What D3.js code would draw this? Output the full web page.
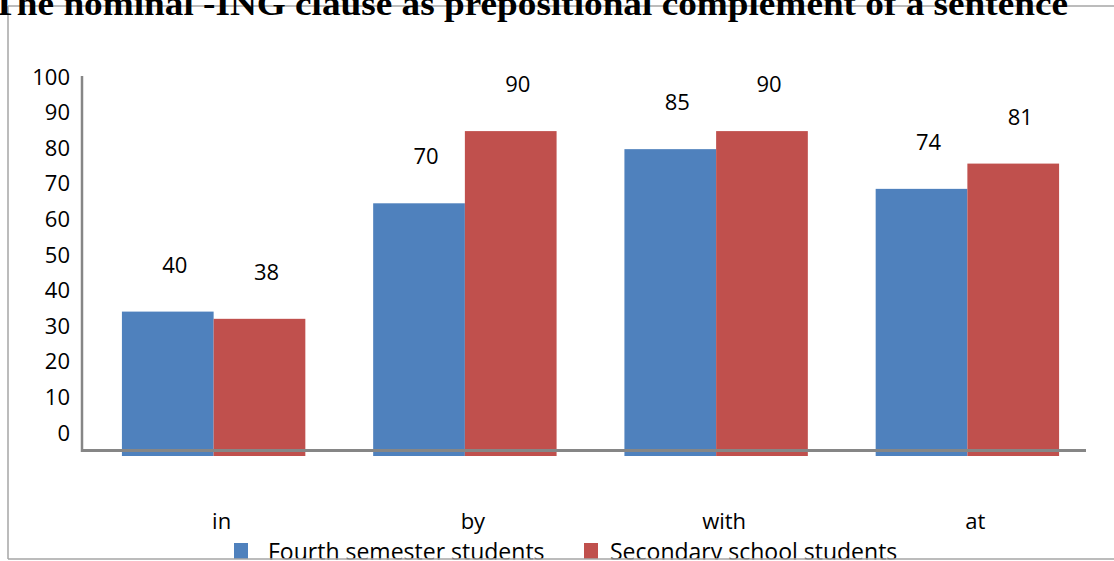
<!DOCTYPE html>
<html>
<head>
<meta charset="utf-8">
<script src="https://cdn.jsdelivr.net/npm/d3@7"></script>
<style>
  body { margin: 0; background: #fff; }
  svg { display: block; }
  text { font-family: "Open Sans", sans-serif; fill: #000; }
</style>
</head>
<body>
<div id="chart"></div>
<script>
// chart data
const categories = ['in', 'by', 'with', 'at'];
const seriesNames = ['Fourth semester students', 'Secondary school students'];
const fourthValues = [40, 70, 85, 74];
const secondaryValues = [38, 90, 90, 81];
const yTicks = [0, 10, 20, 30, 40, 50, 60, 70, 80, 90, 100];
const titleText = 'The nominal -ING clause as prepositional complement of a sentence';

const svgWidth = 1114;
const svgHeight = 561;
const colors = ['#4F81BD', '#C0504D'];

var svg = d3.select('#chart')
    .append('svg')
    .attr('width', svgWidth)
    .attr('height', svgHeight);

// rows for the grouped bars
var rows = categories.map((c, i) => ({
    cat: c,
    vals: [fourthValues[i], secondaryValues[i]]
}));

// scales
var x0 = d3.scaleBand()
    .domain(categories)
    .range([88, 1093])
    .paddingInner(0.27)
    .paddingOuter(0.135);

var x1 = d3.scaleBand()
    .domain([0, 1])
    .range([0, x0.bandwidth()]);

// bars sit on their own scale (drawn a bit below the axis line)
var yBar = d3.scaleLinear()
    .domain([0, 100])
    .range([456, 95]);

// tick labels use a separate scale, as in the original
var yAxisScale = d3.scaleLinear()
    .domain([0, 100])
    .range([433, 77]);

// outer frame
var frame = svg.append('g')
    .attr('stroke', '#a6a6a6')
    .attr('stroke-width', 1.5);
frame.append('line').attr('x1', 8).attr('y1', 6).attr('x2', 8).attr('y2', 559);
frame.append('line').attr('x1', 8).attr('y1', 6).attr('x2', svgWidth).attr('y2', 6);

// bars
var groups = svg.selectAll('.cat')
    .data(rows)
    .enter()
    .append('g')
    .attr('class', 'cat')
    .attr('transform', d => `translate(${x0(d.cat)},0)`);

groups.selectAll('rect')
    .data(d => d.vals.map((v, k) => ({ v: v, k: k })))
    .enter()
    .append('rect')
    .attr('x', d => x1(d.k))
    .attr('width', x1.bandwidth())
    .attr('y', d => yBar(d.v))
    .attr('height', d => yBar(0) - yBar(d.v))
    .attr('fill', d => colors[d.k]);

// value labels
groups.selectAll('.val')
    .data(d => d.vals.map((v, k) => ({ v: v, k: k })))
    .enter()
    .append('text')
    .attr('class', 'val')
    .attr('x', d => x1(d.k) + x1.bandwidth() / 2 + 7)
    .attr('y', d => yBar(d.v) - 39)
    .attr('text-anchor', 'middle')
    .style('font-size', '22px')
    .text(d => d.v);

// y axis labels
var leftAxis = d3.axisLeft(yAxisScale)
    .tickValues(yTicks)
    .tickSize(0)
    .tickPadding(0);

var yAxisG = svg.append('g')
    .attr('transform', 'translate(70,0)')
    .call(leftAxis);
yAxisG.select('.domain').remove();
yAxisG.selectAll('text')
    .style('font-size', '22px')
    .style('font-family', '"Open Sans", sans-serif')
    .attr('fill', '#000');

// axis lines
svg.append('line')
    .attr('x1', 82).attr('y1', 76)
    .attr('x2', 82).attr('y2', 452)
    .attr('stroke', '#868686')
    .attr('stroke-width', 2.5);
svg.append('line')
    .attr('x1', 81).attr('y1', 450.5)
    .attr('x2', 1086).attr('y2', 450.5)
    .attr('stroke', '#868686')
    .attr('stroke-width', 3);

// category labels
svg.selectAll('.catLabel')
    .data(categories)
    .enter()
    .append('text')
    .attr('class', 'catLabel')
    .attr('x', d => x0(d) + x0.bandwidth() / 2 + 8)
    .attr('y', 529)
    .attr('text-anchor', 'middle')
    .style('font-size', '22px')
    .text(d => d);

// legend
var legendX = [234, 584];
var legendTextX = [268, 610];
var legend = svg.selectAll('.legend')
    .data(seriesNames)
    .enter()
    .append('g')
    .attr('class', 'legend');

legend.append('rect')
    .attr('x', (d, i) => legendX[i]).attr('y', 543)
    .attr('width', 14).attr('height', 16)
    .attr('fill', (d, i) => colors[i]);

legend.append('text')
    .attr('x', (d, i) => legendTextX[i])
    .attr('y', 560)
    .style('font-size', '23px')
    .text(d => d);

// bottom border drawn over legend text
svg.append('rect')
    .attr('x', 0).attr('y', 559.5)
    .attr('width', svgWidth).attr('height', 2)
    .attr('fill', '#fff');
svg.append('line')
    .attr('x1', 8).attr('y1', 559)
    .attr('x2', svgWidth).attr('y2', 559)
    .attr('stroke', '#a6a6a6')
    .attr('stroke-width', 1.5);

// title (cut at the top like the original)
svg.append('text')
    .attr('x', -8)
    .attr('y', 15)
    .attr('textLength', 1076)
    .attr('lengthAdjust', 'spacingAndGlyphs')
    .style('font-family', '"Liberation Serif", "Times New Roman", serif')
    .style('font-weight', 'bold')
    .style('font-size', '33px')
    .text(titleText);
</script>
</body>
</html>
